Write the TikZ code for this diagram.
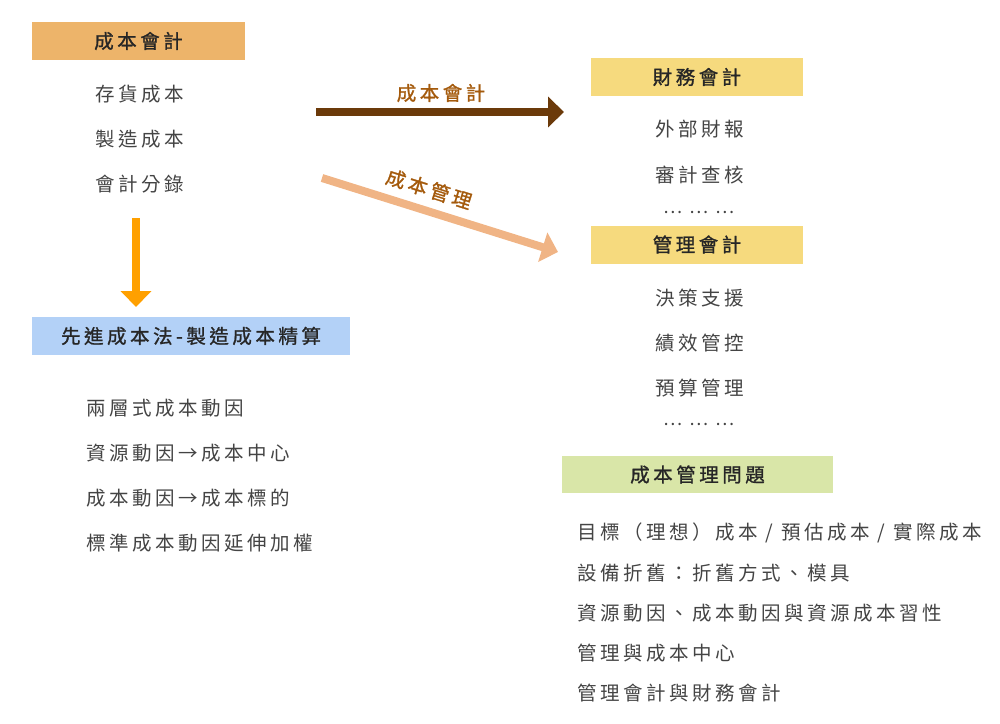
\documentclass[tikz,border=0pt]{standalone}
\usepackage{fontspec}
\usetikzlibrary{arrows.meta}
\newfontfamily\cjk[LetterSpace=18]{Noto Sans CJK TC}
\newfontfamily\cjkh[LetterSpace=18,FakeBold=1.2]{Noto Sans CJK TC}
\definecolor{hdrorange}{HTML}{EDB46A}
\definecolor{hdryellow}{HTML}{F6DA7E}
\definecolor{hdrblue}{HTML}{B3D1F7}
\definecolor{hdrgreen}{HTML}{D9E6A8}
\definecolor{arrbrown}{HTML}{6B3A0A}
\definecolor{arrpink}{HTML}{F0B485}
\definecolor{arrorange}{HTML}{FFA000}
\definecolor{lblbrown}{HTML}{A45A0C}
\definecolor{itemgray}{HTML}{444444}
\tikzset{
  hdr/.style={rectangle, inner sep=0pt, minimum height=38pt, text=black!85,
    font=\fontsize{19.5}{21}\selectfont\cjkh},
  item/.style={anchor=west, inner sep=0pt, text=itemgray,
    font=\fontsize{19.5}{21}\selectfont\cjk},
  dots/.style={inner sep=0pt, text=itemgray, font=\fontsize{18}{20}\selectfont\cjk},
  fat/.style={line width=8pt, -{Triangle[width=30pt,length=16pt]}},
  arrlbl/.style={inner sep=0pt, text=lblbrown, font=\fontsize{19.5}{21}\selectfont\cjkh}
}
\begin{document}
\begin{tikzpicture}[x=1pt,y=-1pt]
\path[use as bounding box] (0,0) rectangle (1000,723);
% left column
\node[hdr, fill=hdrorange, minimum width=213pt] (h1) at (138.5,41) {成本會計};
\node[item] (a1) at (95,94) {存貨成本};
\node[item] (a2) at (95,139) {製造成本};
\node[item] (a3) at (95,184) {會計分錄};
\coordinate (o1) at (136,218);
\coordinate (o2) at (136,307);
\draw[fat, arrorange] (o1) -- (o2);
\node[hdr, fill=hdrblue, minimum width=318pt] (h2) at (191,336) {先進成本法-製造成本精算};
\node[item] (b1) at (86,408) {兩層式成本動因};
\node[item] (b2) at (86,453) {資源動因→成本中心};
\node[item] (b3) at (86,498) {成本動因→成本標的};
\node[item] (b4) at (86,543) {標準成本動因延伸加權};
% middle arrows
\coordinate (m1) at (316,112);
\coordinate (m2) at (564,112);
\draw[fat, arrbrown] (m1) -- (m2);
\node[arrlbl] (l1) at (441,93) {成本會計};
\coordinate (p1) at (322,178);
\coordinate (p2) at (558,252);
\draw[fat, arrpink] (p1) -- (p2);
\node[arrlbl, rotate=-17.4] (l2) at (429,189) {成本管理};
% right column
\node[hdr, fill=hdryellow, minimum width=212pt] (h3) at (697,77) {財務會計};
\node[item] (c1) at (655,129) {外部財報};
\node[item] (c2) at (655,175) {審計查核};
\node[dots] (c3) at (699,212) {… … …};
\node[hdr, fill=hdryellow, minimum width=212pt] (h4) at (697,244.5) {管理會計};
\node[item] (d1) at (655,298) {決策支援};
\node[item] (d2) at (655,343) {績效管控};
\node[item] (d3) at (655,388) {預算管理};
\node[dots] (d4) at (699,424) {… … …};
\node[hdr, fill=hdrgreen, minimum width=271pt, minimum height=37pt] (h5) at (697.5,474.5) {成本管理問題};
\node[item] (e1) at (577,533) {目標（理想）成本 / 預估成本 / 實際成本};
\node[item] (e2) at (577,573) {設備折舊：折舊方式、模具};
\node[item] (e3) at (577,613) {資源動因、成本動因與資源成本習性};
\node[item] (e4) at (577,653) {管理與成本中心};
\node[item] (e5) at (577,693) {管理會計與財務會計};
\end{tikzpicture}
\end{document}
